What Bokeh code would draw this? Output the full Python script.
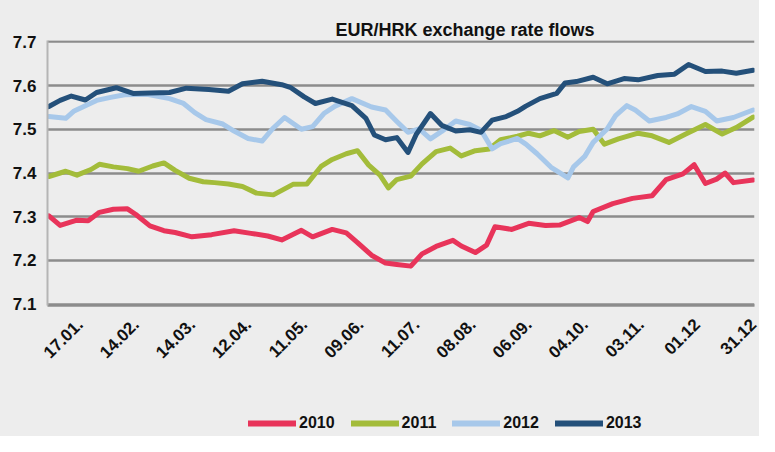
from bokeh.plotting import figure
from bokeh.layouts import column
from bokeh.models import (FixedTicker, PrintfTickFormatter, Legend, LegendItem, Range1d)
from bokeh.embed import file_html
from bokeh.resources import INLINE
import math

# x positions are trading-day indices; ticks every 20 trading days
tick_idx = [11, 31, 51, 71, 91, 111, 131, 151, 171, 191, 211, 231, 251]
tick_labels = ["17.01.", "14.02.", "14.03.", "12.04.", "11.05.", "09.06.", "11.07.",
               "08.08.", "06.09.", "04.10.", "03.11.", "01.12", "31.12"]
y_ticks = [7.1, 7.2, 7.3, 7.4, 7.5, 7.6, 7.7]

x_2010 = [0, 4, 10, 14, 18, 23, 28, 31, 36, 41, 45, 51, 58, 66, 72, 78, 83, 90, 94, 101,
          106, 110, 115, 120, 124, 129, 133, 138, 144, 147, 152, 156, 159, 165, 171, 177,
          182, 189, 192, 194, 201, 208, 215, 220, 226, 230, 234, 238, 241, 244, 251]
y_2010 = [7.302, 7.280, 7.292, 7.291, 7.310, 7.317, 7.318, 7.305, 7.279, 7.268,
          7.264, 7.254, 7.259, 7.268, 7.262, 7.256, 7.247, 7.269, 7.254, 7.271,
          7.263, 7.241, 7.212, 7.194, 7.191, 7.187, 7.215, 7.232, 7.246, 7.233,
          7.218, 7.235, 7.277, 7.271, 7.285, 7.280, 7.281, 7.298, 7.289, 7.312,
          7.330, 7.342, 7.348, 7.385, 7.398, 7.419, 7.376, 7.386, 7.400, 7.378, 7.384]

x_2011 = [0, 6, 10, 15, 18, 23, 28, 32, 37, 41, 45, 50, 55, 59, 64, 69, 74, 80, 87, 92,
          97, 101, 106, 110, 114, 118, 121, 124, 129, 133, 138, 143, 147, 152, 157, 161,
          167, 171, 175, 180, 185, 189, 194, 198, 203, 210, 215, 221, 227, 234, 240, 245, 251]
y_2011 = [7.392, 7.404, 7.395, 7.408, 7.420, 7.414, 7.410, 7.404, 7.416, 7.423,
          7.406, 7.388, 7.380, 7.378, 7.375, 7.369, 7.354, 7.350, 7.374, 7.375,
          7.415, 7.431, 7.444, 7.451, 7.418, 7.395, 7.366, 7.385, 7.393, 7.421,
          7.449, 7.457, 7.439, 7.451, 7.455, 7.476, 7.484, 7.491, 7.485, 7.497,
          7.482, 7.495, 7.500, 7.466, 7.478, 7.491, 7.485, 7.470, 7.489, 7.511,
          7.489, 7.504, 7.528]

x_2012 = [0, 6, 9, 13, 17, 22, 27, 35, 43, 48, 52, 56, 62, 66, 71, 76, 80, 84, 90, 94,
          98, 102, 108, 115, 120, 124, 128, 132, 136, 140, 145, 150, 154, 158, 161, 167,
          170, 174, 179, 185, 187, 191, 194, 199, 202, 206, 209, 214, 220, 224, 229, 234,
          238, 244, 251]
y_2012 = [7.529, 7.525, 7.542, 7.554, 7.566, 7.573, 7.579, 7.580, 7.570, 7.559,
          7.538, 7.522, 7.512, 7.496, 7.479, 7.473, 7.503, 7.527, 7.500, 7.506,
          7.536, 7.553, 7.570, 7.551, 7.544, 7.518, 7.493, 7.501, 7.478, 7.495,
          7.519, 7.511, 7.498, 7.455, 7.467, 7.479, 7.466, 7.444, 7.413, 7.389,
          7.414, 7.438, 7.470, 7.501, 7.531, 7.554, 7.544, 7.519, 7.527, 7.535,
          7.552, 7.541, 7.519, 7.527, 7.544]

x_2013 = [0, 4, 8, 13, 17, 24, 30, 36, 43, 49, 57, 64, 69, 76, 83, 86, 91, 95, 101, 108,
          113, 116, 120, 124, 128, 131, 136, 140, 145, 150, 154, 158, 163, 167, 170, 175,
          181, 184, 188, 194, 199, 205, 210, 217, 223, 228, 234, 240, 245, 251]
y_2013 = [7.552, 7.566, 7.576, 7.567, 7.584, 7.595, 7.582, 7.583, 7.584, 7.594,
          7.591, 7.587, 7.604, 7.610, 7.602, 7.596, 7.574, 7.559, 7.569, 7.554,
          7.525, 7.487, 7.476, 7.481, 7.447, 7.489, 7.536, 7.509, 7.496, 7.499,
          7.493, 7.521, 7.529, 7.541, 7.553, 7.570, 7.582, 7.606, 7.609, 7.619,
          7.604, 7.616, 7.613, 7.623, 7.626, 7.648, 7.632, 7.633, 7.628, 7.635]

series_names = ["2010", "2011", "2012", "2013"]
colors = ["#e8345a", "#a3bc3a", "#a7c8ea", "#24507a"]
xs_all = [x_2010, x_2011, x_2012, x_2013]
ys_all = [y_2010, y_2011, y_2012, y_2013]

BG = "#ededed"
FONT = "Liberation Sans"

p = figure(width=759, height=395, output_backend="svg", toolbar_location=None,
           x_range=Range1d(-0.5, 251.5), y_range=Range1d(7.097, 7.703),
           background_fill_color=BG, border_fill_color=BG,
           min_border_left=47, min_border_right=5, min_border_top=40, min_border_bottom=90)

p.title.text = "EUR/HRK exchange rate flows"
p.title.align = "left"
p.title.offset = 288
p.title.standoff = 2
p.title.text_font = FONT
p.title.text_font_size = "18px"
p.title.text_font_style = "bold"
p.title.text_color = "#111111"
p.outline_line_color = None

for xs, ys, c in zip(xs_all, ys_all, colors):
    p.line(xs, ys, line_color=c, line_width=5, line_join="round", line_cap="round")

# axes
p.yaxis.ticker = FixedTicker(ticks=y_ticks)
p.yaxis.formatter = PrintfTickFormatter(format="%.1f")
p.ygrid.ticker = FixedTicker(ticks=y_ticks)
p.ygrid.grid_line_color = "#8c8c8c"
p.ygrid.grid_line_width = 2.5
p.xgrid.grid_line_color = None
p.yaxis.axis_line_color = "#b5b5b5"
p.yaxis.axis_line_width = 2
p.yaxis.major_tick_line_color = None
p.yaxis.minor_tick_line_color = None
p.yaxis.major_label_text_font = FONT
p.yaxis.major_label_text_font_size = "17px"
p.yaxis.major_label_text_font_style = "bold"
p.yaxis.major_label_text_color = "#111111"
p.yaxis.major_label_standoff = 5

p.xaxis.ticker = FixedTicker(ticks=tick_idx)
p.xaxis.major_label_overrides = {t: l for t, l in zip(tick_idx, tick_labels)}
p.xaxis.major_label_orientation = math.pi / 4
p.xaxis.axis_line_color = "#8c8c8c"
p.xaxis.axis_line_width = 2.5
p.xaxis.major_tick_line_color = None
p.xaxis.minor_tick_line_color = None
p.xaxis.major_label_text_font = FONT
p.xaxis.major_label_text_font_size = "17px"
p.xaxis.major_label_text_font_style = "bold"
p.xaxis.major_label_text_color = "#111111"
p.xaxis.major_label_standoff = 10

# legend strip below the chart (its series lie outside this strip's range)
lf = figure(width=759, height=41, output_backend="svg", toolbar_location=None,
            x_range=Range1d(0, 1), y_range=Range1d(0, 1),
            x_axis_location=None, y_axis_location=None,
            background_fill_color=BG, border_fill_color=BG,
            min_border_left=47, min_border_right=5, min_border_top=0, min_border_bottom=0)
lf.outline_line_color = None
lf.xgrid.grid_line_color = None
lf.ygrid.grid_line_color = None
items = []
for n, xs, ys, c in zip(series_names, xs_all, ys_all, colors):
    r = lf.line(xs, ys, line_color=c, line_width=6, line_cap="round")
    items.append(LegendItem(label=n, renderers=[r]))

legend = Legend(items=items, orientation="horizontal", location=(201, 3),
                background_fill_alpha=0, border_line_alpha=0,
                glyph_width=48, glyph_height=20, label_standoff=3, spacing=16,
                label_text_font=FONT, label_text_font_size="16px",
                label_text_font_style="bold", label_text_color="#111111",
                margin=0, padding=0)
lf.add_layout(legend, "center")

layout = column(p, lf, spacing=0, styles={"background-color": BG})
open("out.html", "w").write(file_html(layout, INLINE))
